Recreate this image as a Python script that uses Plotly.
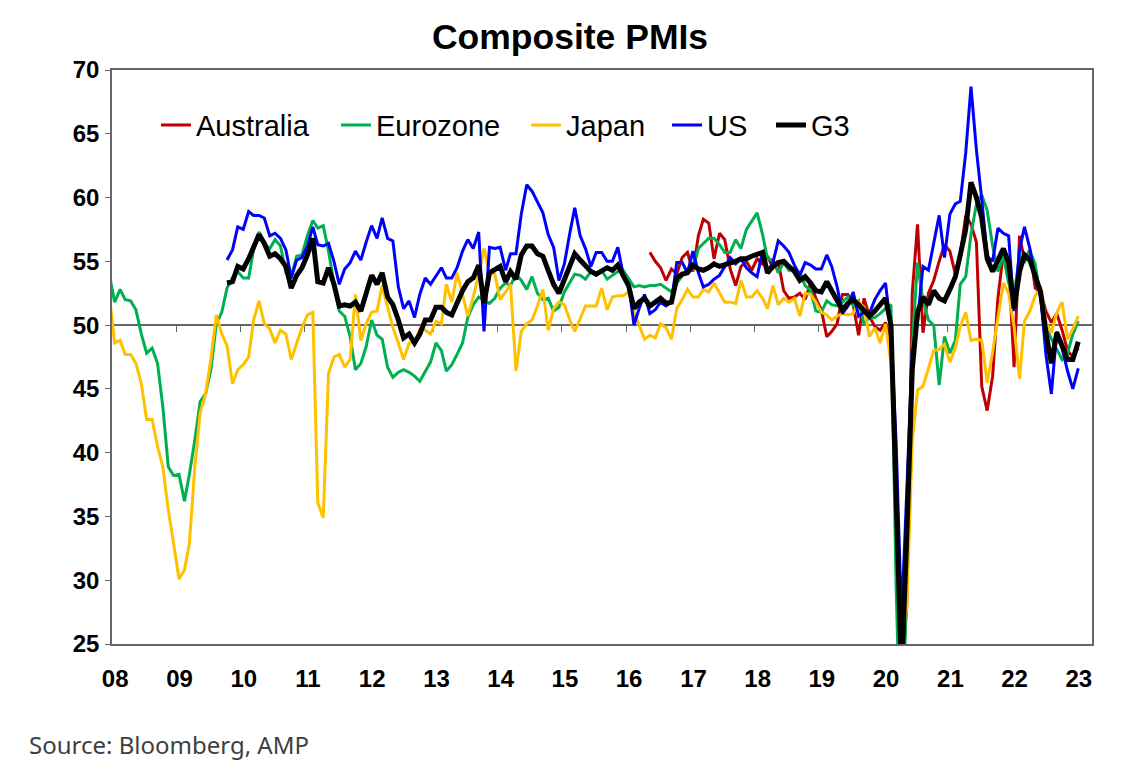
"""Composite PMIs chart recreated with Plotly."""

import pandas as pd
import plotly.graph_objects as go

# Monthly composite PMI readings (points are plotted mid-month)
eurozone_start = "2007-12-01"
eurozone = [
    54.0,
    51.8, 52.8, 52.0, 51.9, 51.2, 49.3, 47.8, 48.2, 47.0, 43.6, 38.9, 38.2,
    38.3, 36.2, 38.3, 41.0, 44.0, 44.6, 46.5, 50.1, 51.0, 52.9, 53.7, 54.2,
    53.7, 53.7, 55.9, 57.3, 56.4, 56.0, 56.7, 56.2, 54.1, 53.8, 55.4, 55.5,
    57.0, 58.2, 57.6, 57.8, 55.8, 53.3, 51.1, 50.7, 49.1, 46.5, 47.0, 48.3,
    50.4, 49.2, 48.9, 46.7, 45.9, 46.3, 46.5, 46.3, 46.0, 45.6, 46.4, 47.1,
    48.6, 48.0, 46.4, 46.9, 47.7, 48.6, 50.6, 51.6, 52.2, 51.9, 51.7, 52.1,
    52.9, 53.3, 53.1, 54.0, 53.5, 52.8, 53.8, 52.5, 52.0, 52.1, 51.1, 51.4,
    52.6, 53.3, 54.0, 53.9, 53.6, 54.2, 53.9, 54.3, 53.6, 53.9, 54.2, 54.3,
    53.6, 53.0, 53.1, 53.0, 53.1, 53.1, 53.2, 52.9, 52.6, 53.3, 53.9, 54.4,
    54.4, 56.0, 56.4, 56.8, 56.8, 56.3, 55.7, 55.7, 56.7, 56.0, 57.5, 58.1,
    58.8, 57.1, 55.2, 55.1, 54.1, 54.9, 54.3, 54.5, 54.1, 53.1, 52.7, 51.1,
    51.0, 51.9, 51.6, 51.5, 51.8, 52.2, 51.5, 51.9, 50.1, 50.6, 50.6, 50.9,
    51.3, 51.6, 29.7, 13.6, 31.9, 48.5, 54.9, 51.9, 50.4, 50.0, 45.3, 49.1,
    47.8, 48.8, 53.2, 53.8, 57.1, 59.5, 60.2, 59.0, 56.2, 54.2, 55.4, 53.3,
    52.3, 55.5, 54.9, 55.8, 54.8, 52.0, 49.9, 48.9, 48.1, 47.3, 47.8, 49.3,
    50.3,
]

japan_start = "2007-12-01"
japan = [
    52.5,
    48.6, 48.8, 47.7, 47.7, 47.0, 45.4, 42.6, 42.6, 40.5, 38.9, 35.5, 32.9,
    30.1, 30.8, 32.9, 38.9, 43.1, 44.6, 47.3, 50.8, 49.3, 48.4, 45.4, 46.5,
    46.9, 47.5, 50.4, 51.9, 50.1, 49.7, 48.6, 49.6, 49.3, 47.3, 48.6, 49.8,
    50.8, 51.0, 36.1, 34.9, 46.2, 47.5, 47.7, 46.7, 47.3, 52.4, 48.8, 50.1,
    51.0, 51.1, 53.1, 51.4, 49.8, 48.6, 47.3, 48.6, 48.6, 49.7, 49.6, 49.3,
    50.3, 50.1, 53.2, 51.8, 54.1, 52.4, 50.7, 52.2, 54.0, 56.0, 54.1, 54.0,
    52.0, 52.6, 53.2, 46.4, 49.5, 50.1, 50.4, 51.5, 52.8, 49.6, 51.3, 51.8,
    51.6, 50.4, 49.5, 50.5, 51.5, 51.5, 51.5, 52.9, 51.2, 52.2, 52.3, 52.3,
    52.6, 51.0, 50.0, 48.9, 49.2, 49.0, 50.1, 49.8, 48.9, 51.3, 52.0, 52.8,
    52.2, 52.2, 52.8, 52.6, 53.3, 52.5, 51.8, 51.8, 51.7, 53.5, 52.2, 52.2,
    52.7, 52.1, 51.3, 53.1, 51.6, 52.1, 51.8, 52.1, 50.7, 52.5, 52.4, 51.8,
    51.0, 50.8, 50.4, 50.7, 50.9, 50.8, 50.9, 51.8, 51.4, 49.1, 49.8, 48.6,
    50.1, 47.0, 36.2, 25.8, 27.8, 40.8, 44.9, 45.2, 46.6, 48.0, 48.1, 48.5,
    47.1, 48.2, 49.9, 51.0, 48.8, 48.9, 48.8, 45.5, 47.9, 50.7, 53.3, 52.5,
    49.9, 45.8, 50.3, 51.1, 52.3, 53.0, 50.2, 49.4, 51.0, 51.8, 48.9, 49.7,
    50.7,
]

us_start = "2009-10-01"
us = [
    55.1, 55.9, 57.7,
    57.5, 58.9, 58.6, 58.6, 58.4, 57.0, 57.2, 56.8, 55.9, 53.7, 55.1, 55.3,
    56.2, 57.7, 56.3, 56.2, 56.4, 55.0, 53.2, 54.4, 54.9, 55.8, 55.1, 56.5,
    57.8, 56.8, 58.4, 56.8, 56.6, 53.0, 51.3, 51.9, 50.6, 52.4, 53.7, 53.2,
    53.9, 54.5, 53.7, 53.7, 54.5, 55.8, 56.7, 56.0, 57.3, 49.5, 56.1, 56.0,
    56.1, 54.3, 55.6, 55.6, 58.7, 61.0, 60.5, 59.6, 58.8, 57.1, 56.1, 53.5,
    54.8, 57.2, 59.2, 57.0, 56.0, 54.6, 55.7, 55.7, 55.0, 55.0, 56.1, 54.0,
    53.2, 50.0, 51.3, 52.4, 50.9, 51.2, 51.8, 51.5, 51.8, 54.9, 54.9, 54.1,
    55.8, 54.1, 53.0, 53.2, 53.6, 53.9, 54.6, 55.3, 54.8, 55.2, 54.5, 54.1,
    53.8, 55.8, 54.2, 54.9, 56.6, 56.2, 55.7, 54.7, 53.9, 54.9, 54.7, 54.4,
    54.4, 55.5, 54.6, 53.0, 50.9, 51.5, 52.6, 50.7, 51.0, 50.9, 52.0, 52.7,
    53.3, 49.6, 40.9, 27.0, 37.0, 47.9, 50.3, 54.6, 54.3, 56.3, 58.6, 55.3,
    58.7, 59.5, 59.7, 63.5, 68.7, 63.7, 59.9, 55.4, 55.0, 57.6, 57.2, 57.0,
    51.1, 55.9, 57.7, 56.0, 53.6, 52.3, 47.7, 44.6, 49.5, 48.2, 46.4, 45.0,
    46.6,
]

g3_start = "2009-10-01"
g3 = [
    53.3, 53.4, 54.6,
    54.4, 55.2, 56.1, 57.1, 56.4, 55.4, 55.6, 55.2, 54.6, 52.9, 53.9, 54.5,
    55.5, 56.8, 53.4, 53.3, 54.5, 53.2, 51.5, 51.6, 51.5, 51.8, 51.1, 52.5,
    53.9, 53.2, 54.1, 52.2, 51.6, 50.4, 49.0, 49.3, 48.6, 49.3, 50.4, 50.4,
    51.4, 51.4, 51.0, 50.8, 51.8, 52.7, 53.4, 53.7, 54.7, 51.7, 54.1, 54.3,
    54.6, 53.4, 54.2, 53.6, 55.5, 56.2, 56.2, 55.6, 55.4, 54.3, 53.2, 52.5,
    53.5, 54.6, 55.6, 55.1, 54.6, 54.2, 54.0, 54.3, 54.5, 54.3, 54.7, 53.9,
    53.1, 51.3, 51.8, 52.1, 51.5, 51.8, 52.1, 51.7, 51.8, 53.7, 54.0, 54.1,
    54.7, 54.4, 54.3, 54.5, 54.8, 54.6, 54.7, 54.9, 55.0, 55.2, 55.2, 55.4,
    55.6, 55.7, 54.1, 54.6, 54.9, 55.0, 54.6, 54.2, 53.5, 53.8, 53.3, 52.7,
    52.6, 53.4, 52.7, 52.0, 51.2, 51.7, 52.0, 51.6, 51.1, 50.7, 51.1, 51.6,
    52.1, 50.0, 36.5, 22.5, 33.5, 46.5, 51.0, 52.2, 51.6, 52.7, 52.1, 51.9,
    52.8, 53.8, 55.5, 57.5, 61.2, 60.0, 58.4, 55.2, 54.2, 55.1, 56.0, 54.9,
    51.3, 54.2, 55.5, 55.1, 53.9, 52.6, 49.4, 47.0, 49.4, 48.4, 47.3, 47.3,
    48.7,
]

australia_start = "2016-05-01"
australia = [
    55.7, 55.0, 54.5, 53.5, 54.4, 54.0, 55.3, 55.7,
    54.2, 57.0, 58.3, 58.0, 55.2, 57.2, 56.7, 54.4, 53.1, 54.6, 55.0, 54.3,
    55.2, 54.8, 55.4, 54.5, 55.0, 52.7, 52.1, 52.2, 52.5, 52.0, 53.3, 52.1,
    51.2, 49.1, 49.5, 50.1, 52.4, 52.4, 51.6, 49.2, 52.1, 50.7, 49.9, 49.6,
    50.2, 49.0, 39.4, 21.7, 28.1, 52.5, 57.9, 49.4, 52.5, 53.5, 55.0, 56.3,
    55.8, 54.0, 55.5, 58.6, 57.9, 56.5, 45.2, 43.3, 46.0, 52.1, 55.7, 54.9,
    46.7, 57.0, 55.1, 55.9, 52.9, 52.6, 51.1, 50.2, 50.9, 49.6, 48.0, 47.5,
    48.2,
]

y_ticks = [25, 30, 35, 40, 45, 50, 55, 60, 65, 70]


def month_dates(start, n):
    # mid-month positions, like the original chart
    return pd.date_range(start, periods=n, freq="MS") + pd.Timedelta(days=14)


series = [
    ("Australia", australia_start, australia, "#C00000", 3.0),
    ("Eurozone", eurozone_start, eurozone, "#00B050", 3.0),
    ("Japan", japan_start, japan, "#FFC000", 3.0),
    ("US", us_start, us, "#0000FF", 3.0),
    ("G3", g3_start, g3, "#000000", 5.0),
]

# left edge of each legend entry (pixels from plot left)
legend_px = [44, 224, 414, 555, 659]

AXIS_GREY = "#666666"
FONT = "Arial, Liberation Sans, sans-serif"

# page has an 8px body margin, so the figure is drawn 8px smaller
FIG_W, FIG_H = 1121, 766
PLOT_L, PLOT_T, PLOT_W, PLOT_H = 104, 62, 980, 574

fig = go.Figure()

for i, (name, start, vals, color, width) in enumerate(series):
    leg = "legend" if i == 0 else f"legend{i + 1}"
    fig.add_trace(go.Scatter(
        x=month_dates(start, len(vals)),
        y=vals,
        mode="lines",
        name=name,
        line=dict(color=color, width=width),
        legend=leg,
        hovertemplate=name + ": %{y:.1f}<br>%{x|%b %Y}<extra></extra>",
    ))

# invisible trace so the 50-line axis gets drawn
fig.add_trace(go.Scatter(
    x=month_dates(eurozone_start, 2), y=[None, None],
    xaxis="x2", showlegend=False, hoverinfo="skip",
))

x_range = ["2007-12-31", "2023-04-03"]

legend_layout = {}
for i, px in enumerate(legend_px):
    key = "legend" if i == 0 else f"legend{i + 1}"
    legend_layout[key] = dict(
        x=px / PLOT_W, y=0.904, xanchor="left", yanchor="middle",
        orientation="h", bgcolor="rgba(0,0,0,0)",
        font=dict(family=FONT, size=29, color="black"),
        borderwidth=0,
    )

fig.update_layout(
    width=FIG_W,
    height=FIG_H,
    margin=dict(l=PLOT_L, r=FIG_W - PLOT_L - PLOT_W, t=PLOT_T,
                b=FIG_H - PLOT_T - PLOT_H),
    paper_bgcolor="white",
    plot_bgcolor="white",
    title=dict(
        text="<b>Composite PMIs</b>",
        x=562 / FIG_W, xref="container", xanchor="center",
        y=1 - 29 / FIG_H, yref="container", yanchor="middle",
        font=dict(family=FONT, size=35.5, color="black"),
    ),
    xaxis=dict(
        range=x_range,
        type="date",
        tick0="2008-01-01",
        dtick="M12",
        tickformat="%y",
        ticks="",
        showgrid=False,
        zeroline=False,
        showline=True,
        mirror=True,
        linecolor=AXIS_GREY,
        linewidth=1.5,
        tickfont=dict(family=FONT, size=24, color="black", weight="bold"),
        ticklabelstandoff=12,
        ticklabelshift=3,
    ),
    xaxis2=dict(
        range=x_range,
        type="date",
        overlaying="x",
        anchor="free",
        position=(50 - 25) / (70 - 25),
        side="bottom",
        tick0="2008-01-01",
        dtick="M12",
        ticks="outside",
        ticklen=6,
        tickcolor=AXIS_GREY,
        tickwidth=1.2,
        showticklabels=False,
        showgrid=False,
        zeroline=False,
        showline=True,
        linecolor=AXIS_GREY,
        linewidth=1.5,
        layer="below traces",
    ),
    yaxis=dict(
        range=[25, 70],
        tickvals=y_ticks,
        ticks="outside",
        ticklen=5,
        tickcolor=AXIS_GREY,
        showgrid=False,
        zeroline=False,
        showline=True,
        mirror=True,
        linecolor=AXIS_GREY,
        linewidth=1.5,
        tickfont=dict(family=FONT, size=24, color="black", weight="bold"),
        ticklabelstandoff=1,
    ),
    annotations=[dict(
        text="Source: Bloomberg, AMP",
        xref="paper", yref="paper",
        x=(19 - PLOT_L) / PLOT_W, y=(PLOT_H - (736 - PLOT_T)) / PLOT_H,
        xanchor="left", yanchor="middle",
        showarrow=False,
        font=dict(family="Noto Sans, sans-serif", size=24, color="#404040"),
    )],
    hovermode="closest",
    **legend_layout,
)

fig.write_html("out.html")
